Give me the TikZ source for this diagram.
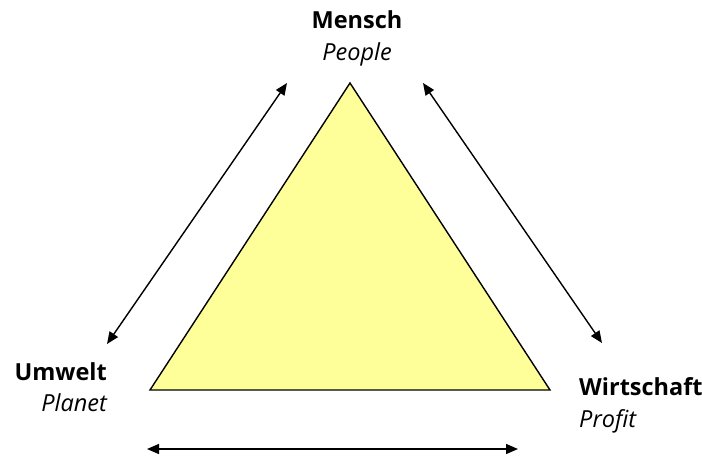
\documentclass[tikz,border=0pt]{standalone}
\usepackage{fontspec}
\setmainfont{Open Sans}
\usepackage{xcolor}
\definecolor{PaleYellow}{HTML}{FFFF99}
\usetikzlibrary{arrows.meta}

\begin{document}
\begin{tikzpicture}[
  x=1pt, y=-1pt,
  head/.style={font=\fontsize{23.5}{31}\selectfont\bfseries, inner sep=0pt},
  sub/.style={font=\fontsize{23.5}{31}\selectfont\itshape, inner sep=0pt},
  link/.style={{Triangle[length=12pt,width=10pt]}-{Triangle[length=12pt,width=10pt]}, line width=1.4pt},
]
\useasboundingbox (0,0) rectangle (702,461);

%% -- Triangle --------------------------------------------
\coordinate (apex) at (350,83);
\coordinate (left) at (150,390);
\coordinate (right) at (550,390);
\filldraw[fill=PaleYellow, draw=black, line width=1.4pt, line join=miter]
  (apex) -- (left) -- (right) -- cycle;

%% -- Labels --------------------------------------------
\node[head, anchor=base] (mensch) at (357,28) {Mensch};
\node[sub, anchor=base] (people) at (357,60) {People};
\node[head, anchor=base east] (umwelt) at (107,380) {Umwelt};
\node[sub, anchor=base east] (planet) at (107,411) {Planet};
\node[head, anchor=base west] (wirtschaft) at (579,395) {Wirtschaft};
\node[sub, anchor=base west] (profit) at (579,427) {Profit};

%% -- Relations --------------------------------------------
\coordinate (l1) at (107,344);
\coordinate (l2) at (287,83);
\coordinate (r1) at (423,83);
\coordinate (r2) at (602,343);
\coordinate (b1) at (147,449);
\coordinate (b2) at (518,449);
\draw[link] (l1) -- (l2);
\draw[link] (r1) -- (r2);
\draw[link] (b1) -- (b2);

\end{tikzpicture}
\end{document}
